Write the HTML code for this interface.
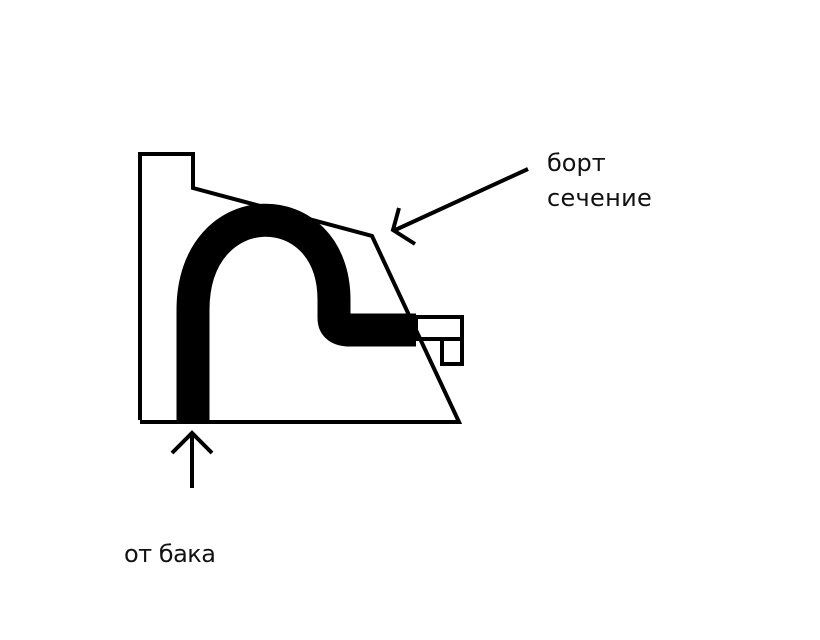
<!DOCTYPE html>
<html><head><meta charset="utf-8"><style>
html,body{margin:0;padding:0;background:#fff;}
svg{display:block}
text{font-family:"DejaVu Sans","Liberation Sans",sans-serif;font-size:24px;fill:#111;}
</style></head><body>
<svg width="820" height="640" viewBox="0 0 820 640" xmlns="http://www.w3.org/2000/svg">
<g fill="none" stroke="#000" stroke-width="4" stroke-linejoin="miter">
<path d="M140,420 L140,154 L193,154 L193,188 L372,236 L459,422 L140,422"/>
<rect x="416" y="317" width="46" height="22"/>
<rect x="442" y="339" width="20" height="25"/>
<path d="M528,169 L393,231"/>
<path d="M399,208 L393,230 L415,244"/>
<path d="M192,488 L192,434"/>
<path d="M172,453 L192,433 L212,453"/>
</g>
<path d="M193,422 L193,310 C193,192 334,192 334,300 L334,318 Q334,330 350,330 L416,330" fill="none" stroke="#000" stroke-width="33"/>
<text x="547" y="171" letter-spacing="0">борт</text>
<text x="547" y="206" letter-spacing="0.3">сечение</text>
<text x="124" y="562" letter-spacing="-0.5">от бака</text>
</svg>
</body></html>
